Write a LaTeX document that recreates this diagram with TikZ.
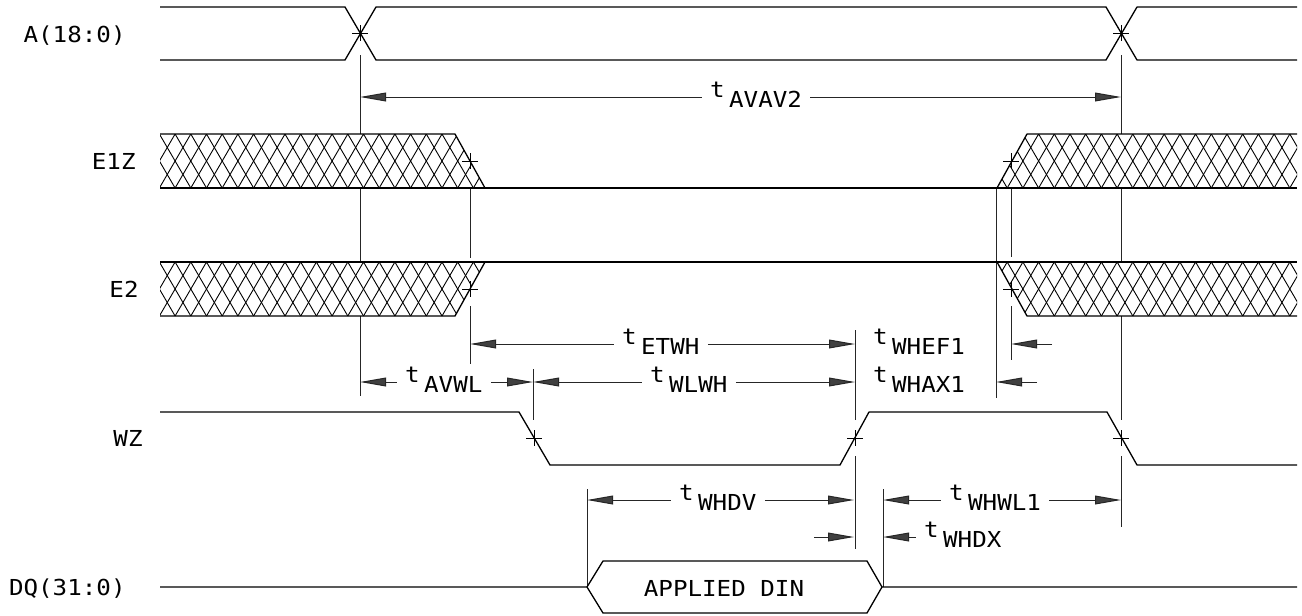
\documentclass[tikz,border=0pt]{standalone}
\usepackage{fontspec}
\setmainfont{DejaVu Sans Mono}[FakeStretch=1.1]
\usetikzlibrary{arrows.meta,shapes.misc}
\newcommand{\tsub}[1]{\raisebox{5pt}{t}\kern2.3pt#1}
\begin{document}
\begin{tikzpicture}
[x=0.5pt,y=-0.5pt,
  signaldecorate/.style={line width=0.65pt,line join=round},%
  hatchdecorate/.style={line width=0.45pt},%
  extdecorate/.style={line width=0.5pt,black!85},%
  dimdecorate/.style={line width=0.5pt,black!85,
    -{Triangle[length=13pt,width=4.4pt,fill=black!75]}},%
  markdecorate/.style={draw,cross out,rotate=45,minimum size=4.9pt,
    inner sep=0pt,line width=0.5pt},%
  namedecorate/.style={anchor=base east,inner sep=0pt,
    font=\fontsize{11}{13}\selectfont},%
  labeldecorate/.style={anchor=base west,inner xsep=4pt,inner ysep=0pt,
    xshift=-5.2pt,yshift=-5.25pt,font=\fontsize{11}{13}\selectfont}]
\useasboundingbox (0,0) rectangle (1302,616);
%% signal names
\foreach \nodename/\txt/\x/\y in {nA/A(18:0)/126/42, nE1Z/E1Z/136/169,
  nE2/E2/139/297, nWZ/WZ/143/446, nDQ/DQ(31:0)/126/595} {
  \node (\nodename) at (\x,\y) [namedecorate] {\txt};
}
%% extension lines
\foreach \x/\ya/\yb in {360/55/396, 1121/55/420, 470/172/258, 470/306/364,
  1011/172/257, 1011/306/360, 996/187/398, 533/369/420, 855/330/420,
  855/456/549, 1121/456/527, 587/489/587, 883/489/587} {
  \draw[extdecorate] (\x,\ya) -- (\x,\yb);
}
%% hatched bands
\foreach \xa/\xb/\xc/\xd/\yt/\yb in {160/455/485/160/134/188,
  1027/1297/1297/997/134/188, 160/485/455/160/262/316,
  997/1297/1297/1027/262/316} {
  \begin{scope}
    \clip (\xa,\yt) -- (\xb,\yt) -- (\xc,\yb) -- (\xd,\yb) -- cycle;
    \fill[white] (128,\yt) rectangle (1330,\yb);
    \foreach \k in {0,...,78} {
      \draw[hatchdecorate] (128+\k*15.7,\yt) -- ++(31.4,54)
        (128+\k*15.7,\yt) -- ++(-31.4,54);
    }
  \end{scope}
}
%% waveforms
\draw[signaldecorate] (160,7) -- (345,7) -- (376,60) -- (1106,60)
  -- (1137,7) -- (1297,7);
\draw[signaldecorate] (160,60) -- (345,60) -- (376,7) -- (1106,7)
  -- (1137,60) -- (1297,60);
\draw[signaldecorate] (160,134) -- (455,134) -- (485,188);
\draw[signaldecorate] (160,188) -- (1297,188);
\draw[signaldecorate] (997,188) -- (1027,134) -- (1297,134);
\draw[signaldecorate] (160,316) -- (455,316) -- (485,262);
\draw[signaldecorate] (160,262) -- (1297,262);
\draw[signaldecorate] (997,262) -- (1027,316) -- (1297,316);
\draw[signaldecorate] (160,412) -- (519,412) -- (550,465) -- (840,465)
  -- (869,412) -- (1107,412) -- (1137,465) -- (1297,465);
\draw[signaldecorate] (160,587) -- (587,587) -- (603,561) -- (867,561)
  -- (882,587) -- (1297,587);
\draw[signaldecorate] (587,587) -- (603,613) -- (867,613) -- (882,587);
\node (din) at (724,588) [font=\fontsize{11}{13}\selectfont] {APPLIED DIN};
%% crossing marks
\foreach \nodename/\x/\y in {mA1/360/33, mA2/1121/33, mE1Zf/470/161,
  mE1Zr/1011/161, mE2r/470/289, mE2f/1011/289, mWZf/534/438,
  mWZr/855/438, mWZf2/1121/438} {
  \node (\nodename) at (\x,\y) [markdecorate] {};
}
%% timing labels
\foreach \nodename/\txt/\x/\y in {lAVAV2/AVAV2/712/97, lETWH/ETWH/624/344,
  lAVWL/AVWL/407/382, lWLWH/WLWH/652/382, lWHEF1/WHEF1/875/344,
  lWHAX1/WHAX1/875/382, lWHDV/WHDV/681/500, lWHWL1/WHWL1/951/500,
  lWHDX/WHDX/926/537} {
  \node (\nodename) at (\x,\y) [labeldecorate] {\tsub{\txt}};
}
\foreach \cname/\x/\y in {dAVAV2l/360/97, dAVAV2r/1121/97, dETWHl/470/344,
  dETWHr/855/344, dAVWLl/360/382, dAVWLr/533/382, dWLWHl/533/382,
  dWLWHr/855/382, dWHEF1t/1052/344, dWHEF1r/1011/344, dWHAX1t/1037/382,
  dWHAX1r/996/382, dWHDVl/587/500, dWHDVr/854/500, dWHWL1l/883/500,
  dWHWL1r/1121/500, dWHDXt/814/537, dWHDXl/854/537, dWHDXr/883/537} {
  \coordinate (\cname) at (\x,\y);
}
%% dimension arrows
\path
\foreach \lbl/\startnode/\endnode in {lAVAV2/dAVAV2l/dAVAV2r,
  lETWH/dETWHl/dETWHr, lAVWL/dAVWLl/dAVWLr, lWLWH/dWLWHl/dWLWHr,
  lWHDV/dWHDVl/dWHDVr, lWHWL1/dWHWL1l/dWHWL1r} {
  (\lbl.west |- \startnode) edge[dimdecorate] (\startnode)
  (\lbl.east |- \endnode) edge[dimdecorate] (\endnode)
};
\path
\foreach \startnode/\endnode in {dWHEF1t/dWHEF1r, dWHAX1t/dWHAX1r,
  dWHDXt/dWHDXl} {
  (\startnode) edge[dimdecorate] (\endnode)
}
  (lWHDX.west |- dWHDXr) edge[dimdecorate] (dWHDXr);
\end{tikzpicture}
\end{document}
